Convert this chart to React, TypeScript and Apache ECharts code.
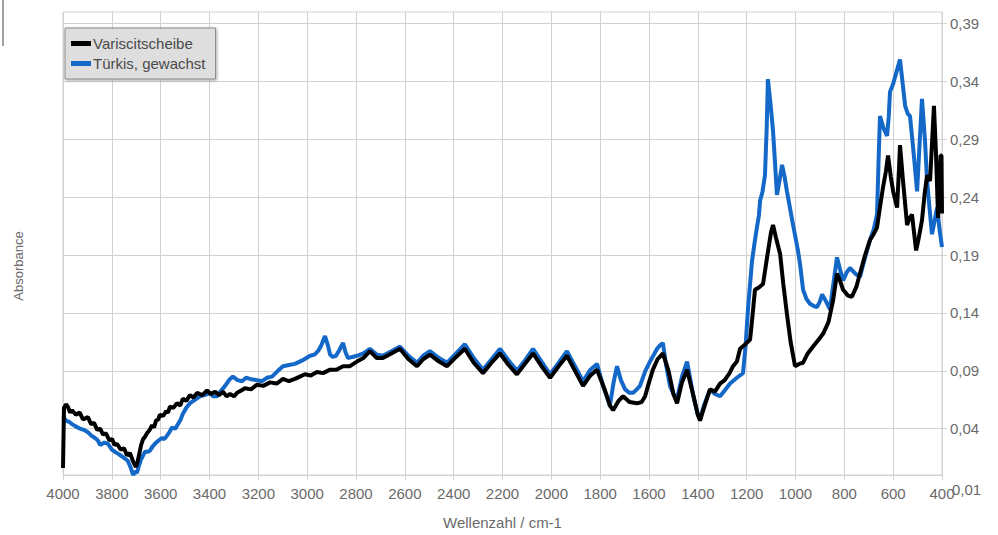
import { useEffect, useRef } from "react";
import * as echarts from "echarts";

const seriesNames = ["Variscitscheibe", "Türkis, gewachst"];
const seriesColors = ["#000000", "#1468c8"];
const yTickValues = [0.04, 0.09, 0.14, 0.19, 0.24, 0.29, 0.34, 0.39];
const yBottomLabel = "0,01";
const xAxisTitle = "Wellenzahl / cm-1";
const yAxisTitle = "Absorbance";

// [wavenumber, absorbance]
const variscit: [number, number][] = [
  [4000, 0.006], [3996, 0.058], [3988, 0.061], [3980, 0.059], [3971, 0.054], [3963, 0.056],
  [3947, 0.052], [3932, 0.054], [3918, 0.048], [3898, 0.050], [3885, 0.044], [3873, 0.045],
  [3860, 0.039], [3848, 0.040], [3836, 0.035], [3824, 0.036], [3810, 0.030], [3799, 0.031],
  [3789, 0.026], [3779, 0.027], [3764, 0.022], [3750, 0.023], [3738, 0.017], [3726, 0.019],
  [3715, 0.013], [3709, 0.010], [3701, 0.007], [3695, 0.011], [3689, 0.017], [3680, 0.026],
  [3672, 0.031], [3664, 0.033], [3656, 0.036], [3645, 0.039], [3635, 0.043], [3627, 0.041],
  [3619, 0.047], [3610, 0.048], [3603, 0.052], [3590, 0.051], [3578, 0.055], [3570, 0.054],
  [3562, 0.059], [3548, 0.058], [3533, 0.062], [3520, 0.060], [3509, 0.066], [3495, 0.064],
  [3480, 0.069], [3465, 0.067], [3451, 0.071], [3430, 0.069], [3410, 0.073], [3395, 0.070],
  [3377, 0.072], [3360, 0.069], [3345, 0.072], [3330, 0.068], [3316, 0.070], [3300, 0.068],
  [3287, 0.071], [3270, 0.073], [3255, 0.075], [3230, 0.074], [3205, 0.078], [3180, 0.077],
  [3152, 0.080], [3125, 0.079], [3099, 0.083], [3075, 0.081], [3050, 0.083], [3030, 0.085],
  [3009, 0.087], [2985, 0.086], [2960, 0.089], [2935, 0.088], [2906, 0.091], [2880, 0.091],
  [2853, 0.094], [2825, 0.094], [2796, 0.098], [2770, 0.101], [2743, 0.107], [2715, 0.101],
  [2690, 0.101], [2655, 0.105], [2620, 0.109], [2585, 0.100], [2550, 0.094], [2525, 0.100],
  [2497, 0.104], [2460, 0.098], [2427, 0.094], [2390, 0.102], [2354, 0.109], [2318, 0.097],
  [2280, 0.088], [2245, 0.097], [2210, 0.105], [2175, 0.095], [2141, 0.087], [2108, 0.096],
  [2075, 0.105], [2040, 0.094], [2005, 0.084], [1970, 0.094], [1936, 0.103], [1903, 0.090],
  [1870, 0.077], [1840, 0.086], [1813, 0.091], [1780, 0.073], [1760, 0.060], [1747, 0.056],
  [1725, 0.064], [1706, 0.068], [1680, 0.063], [1649, 0.062], [1630, 0.063], [1616, 0.068],
  [1600, 0.080], [1584, 0.091], [1565, 0.100], [1543, 0.105], [1520, 0.090], [1500, 0.070],
  [1485, 0.062], [1465, 0.080], [1444, 0.091], [1420, 0.070], [1400, 0.052], [1391, 0.047],
  [1375, 0.058], [1350, 0.074], [1330, 0.072], [1309, 0.079], [1290, 0.082], [1270, 0.088],
  [1256, 0.094], [1240, 0.098], [1227, 0.109], [1205, 0.113], [1186, 0.117], [1175, 0.140],
  [1166, 0.160], [1150, 0.162], [1133, 0.165], [1115, 0.190], [1100, 0.210], [1092, 0.216],
  [1080, 0.205], [1063, 0.191], [1050, 0.165], [1035, 0.139], [1020, 0.115], [1002, 0.094],
  [985, 0.096], [969, 0.097], [950, 0.105], [928, 0.111], [905, 0.117], [887, 0.122],
  [865, 0.132], [846, 0.151], [830, 0.174], [818, 0.168], [805, 0.160], [785, 0.155],
  [769, 0.154], [750, 0.163], [736, 0.174], [715, 0.190], [695, 0.203], [680, 0.208],
  [666, 0.214], [655, 0.230], [642, 0.248], [630, 0.262], [621, 0.276], [610, 0.258],
  [600, 0.245], [584, 0.231], [576, 0.265], [572, 0.285], [560, 0.255], [543, 0.216],
  [533, 0.222], [523, 0.225], [512, 0.205], [506, 0.194], [495, 0.205], [482, 0.220],
  [470, 0.245], [461, 0.259], [449, 0.254], [440, 0.290], [433, 0.319], [425, 0.280],
  [416, 0.222], [410, 0.250], [406, 0.276], [402, 0.276], [400, 0.226],
];

const tuerkis: [number, number][] = [
  [4000, 0.051], [3994, 0.049], [3988, 0.047], [3975, 0.046], [3963, 0.044], [3948, 0.042],
  [3930, 0.040], [3915, 0.039], [3898, 0.037], [3884, 0.034], [3869, 0.032], [3858, 0.030],
  [3848, 0.026], [3830, 0.028], [3816, 0.027], [3800, 0.022], [3787, 0.020], [3772, 0.018],
  [3758, 0.016], [3745, 0.014], [3734, 0.012], [3722, 0.006], [3713, 0.000], [3705, 0.003],
  [3697, 0.002], [3689, 0.008], [3681, 0.013], [3672, 0.017], [3664, 0.020], [3654, 0.020],
  [3644, 0.021], [3632, 0.025], [3619, 0.028], [3607, 0.030], [3595, 0.032], [3585, 0.031],
  [3574, 0.034], [3564, 0.037], [3554, 0.041], [3540, 0.040], [3529, 0.044], [3518, 0.048],
  [3509, 0.053], [3495, 0.058], [3480, 0.062], [3460, 0.065], [3439, 0.068], [3420, 0.069],
  [3398, 0.071], [3385, 0.068], [3369, 0.068], [3352, 0.073], [3336, 0.077], [3320, 0.082],
  [3304, 0.085], [3285, 0.082], [3267, 0.081], [3250, 0.084], [3234, 0.083], [3210, 0.082],
  [3185, 0.081], [3165, 0.084], [3144, 0.085], [3120, 0.090], [3099, 0.094], [3075, 0.095],
  [3050, 0.096], [3020, 0.099], [2988, 0.103], [2970, 0.104], [2956, 0.107], [2942, 0.112],
  [2927, 0.120], [2915, 0.112], [2906, 0.104], [2895, 0.102], [2882, 0.103], [2868, 0.108],
  [2853, 0.114], [2843, 0.106], [2833, 0.101], [2815, 0.102], [2796, 0.103], [2770, 0.105],
  [2743, 0.109], [2715, 0.104], [2690, 0.103], [2655, 0.107], [2620, 0.111], [2585, 0.103],
  [2550, 0.097], [2525, 0.103], [2497, 0.107], [2460, 0.101], [2427, 0.097], [2390, 0.105],
  [2354, 0.113], [2318, 0.101], [2280, 0.091], [2245, 0.100], [2210, 0.109], [2175, 0.099],
  [2141, 0.090], [2108, 0.099], [2075, 0.109], [2040, 0.098], [2005, 0.087], [1970, 0.097],
  [1936, 0.107], [1903, 0.094], [1870, 0.081], [1840, 0.091], [1813, 0.096], [1785, 0.075],
  [1760, 0.060], [1745, 0.080], [1731, 0.094], [1715, 0.082], [1698, 0.074], [1680, 0.071],
  [1665, 0.071], [1650, 0.074], [1637, 0.077], [1615, 0.090], [1596, 0.098], [1580, 0.104],
  [1567, 0.109], [1555, 0.112], [1543, 0.114], [1530, 0.095], [1514, 0.077], [1500, 0.070],
  [1485, 0.066], [1465, 0.085], [1444, 0.098], [1420, 0.070], [1400, 0.052], [1391, 0.049],
  [1375, 0.060], [1350, 0.074], [1330, 0.070], [1309, 0.068], [1290, 0.073], [1268, 0.079],
  [1240, 0.084], [1215, 0.088], [1205, 0.110], [1194, 0.145], [1186, 0.165], [1178, 0.185],
  [1168, 0.200], [1158, 0.214], [1150, 0.224], [1145, 0.237], [1135, 0.245], [1125, 0.259],
  [1118, 0.300], [1113, 0.342], [1102, 0.320], [1092, 0.297], [1084, 0.270], [1076, 0.242],
  [1065, 0.255], [1055, 0.268], [1045, 0.258], [1035, 0.245], [1022, 0.230], [1010, 0.216],
  [1000, 0.205], [990, 0.194], [980, 0.180], [969, 0.160], [955, 0.152], [941, 0.148],
  [925, 0.146], [912, 0.145], [900, 0.150], [891, 0.156], [875, 0.150], [859, 0.143],
  [845, 0.165], [830, 0.188], [818, 0.178], [805, 0.168], [790, 0.175], [777, 0.179],
  [755, 0.174], [736, 0.171], [715, 0.188], [695, 0.203], [680, 0.212], [666, 0.225],
  [660, 0.270], [654, 0.310], [640, 0.300], [625, 0.293], [618, 0.310], [613, 0.331],
  [600, 0.338], [584, 0.350], [572, 0.359], [562, 0.340], [551, 0.319], [540, 0.312],
  [531, 0.310], [517, 0.280], [502, 0.245], [492, 0.285], [482, 0.325], [470, 0.290],
  [461, 0.254], [450, 0.228], [441, 0.208], [430, 0.220], [420, 0.231], [410, 0.212],
  [400, 0.197],
];

const labelColor = "#6a6a6a";
const gridColor = "#d2d2d2";
const fontFamily = "'Liberation Sans', Arial, sans-serif";

export default function App() {
  const ref = useRef<HTMLDivElement>(null);

  useEffect(() => {
    if (!ref.current) return;
    const chart = echarts.init(ref.current, undefined, { renderer: "svg" });
    chart.setOption({
      animation: false,
      backgroundColor: "#ffffff",
      textStyle: { fontFamily },
      grid: {
        left: 63,
        right: 56,
        top: 12,
        bottom: 55,
        show: true,
        borderColor: gridColor,
        borderWidth: 1,
      },
      legend: {
        data: seriesNames,
        orient: "vertical",
        left: 65,
        top: 28,
        icon: "rect",
        itemWidth: 20,
        itemHeight: 5,
        itemGap: 5,
        padding: [8, 10, 8, 6],
        backgroundColor: "#dedede",
        borderColor: "#8a8a8a",
        borderWidth: 1,
        shadowBlur: 3,
        shadowColor: "rgba(0,0,0,0.35)",
        shadowOffsetX: 1,
        shadowOffsetY: 1,
        textStyle: { color: "#4a4a4a", fontSize: 15, fontFamily, padding: [0, 0, 0, -3] },
      },
      xAxis: {
        type: "value",
        inverse: true,
        min: 400,
        max: 4000,
        interval: 200,
        name: xAxisTitle,
        nameLocation: "middle",
        nameGap: 40,
        nameTextStyle: { color: "#6a6a6a", fontSize: 15, fontFamily },
        axisLine: { show: true, lineStyle: { color: gridColor } },
        axisTick: { show: true, length: 5, lineStyle: { color: gridColor } },
        axisLabel: {
          color: labelColor,
          fontSize: 15,
          margin: 11,
          fontFamily,
          formatter: (v: number) => String(v),
        },
        splitLine: { show: true, lineStyle: { color: gridColor } },
      },
      yAxis: {
        type: "value",
        position: "right",
        min: 0,
        max: 0.4,
        axisLine: { show: true, lineStyle: { color: gridColor } },
        axisTick: {
          show: true,
          length: 5,
          customValues: yTickValues,
          lineStyle: { color: gridColor },
        },
        axisLabel: {
          customValues: yTickValues,
          color: labelColor,
          fontSize: 15,
          margin: 8,
          fontFamily,
          formatter: (v: number) => v.toFixed(2).replace(".", ","),
        },
        splitLine: { show: true, lineStyle: { color: gridColor } },
      },
      graphic: [
        {
          type: "text",
          x: 952,
          y: 489,
          style: {
            text: yBottomLabel,
            fill: labelColor,
            font: `15px ${fontFamily}`,
            textVerticalAlign: "middle",
          },
        },
        {
          type: "text",
          x: 18,
          y: 266,
          rotation: Math.PI / 2,
          style: {
            text: yAxisTitle,
            fill: "#6a6a6a",
            font: `13px ${fontFamily}`,
            textAlign: "center",
            textVerticalAlign: "middle",
          },
        },
        {
          type: "line",
          shape: { x1: 3, y1: 0, x2: 3, y2: 46 },
          style: { stroke: "#444444", lineWidth: 1 },
        },
      ],
      series: [
        {
          name: seriesNames[1],
          type: "line",
          data: tuerkis,
          showSymbol: false,
          color: seriesColors[1],
          lineStyle: { width: 4, color: seriesColors[1] },
          z: 2,
        },
        {
          name: seriesNames[0],
          type: "line",
          data: variscit,
          showSymbol: false,
          color: seriesColors[0],
          lineStyle: { width: 4, color: seriesColors[0] },
          z: 3,
        },
      ],
    });
    return () => chart.dispose();
  }, []);

  return (
    <div
      ref={ref}
      style={{ position: "fixed", left: 0, top: 0, width: 998, height: 535 }}
    />
  );
}
